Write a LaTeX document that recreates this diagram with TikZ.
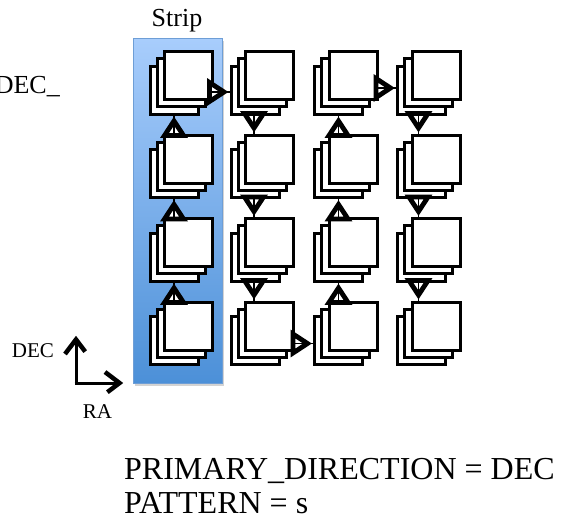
\documentclass[tikz,border=0pt]{standalone}
\usepackage{fontspec}
\setmainfont{Liberation Serif}
\usetikzlibrary{decorations.markings,shadows}
\definecolor{striptop}{RGB}{168,205,252}
\definecolor{stripbot}{RGB}{76,144,216}
\definecolor{stripedge}{RGB}{110,158,214}
\tikzset{
  sq/.style={draw=black,fill=white,line width=3pt,minimum size=48pt,inner sep=0pt,anchor=north west},
  flow/.style={line width=1.2pt,
    decoration={markings,mark=at position 1 with {
      \draw[line width=4.8pt,line join=miter,fill=white]
        (-20pt,9.5pt) -- (-5.5pt,0pt) -- (-20pt,-9.5pt) -- cycle;
      \draw[line width=1.2pt] (-20pt,0pt) -- (-9pt,0pt);
    }},postaction={decorate}},
  axis/.style={line width=3pt,shorten >=3pt,
    decoration={markings,mark=at position 1 with {
      \draw[line width=4.5pt,line join=miter,line cap=butt]
        (-19pt,11pt) -- (-4.5pt,0pt) -- (-19pt,-11pt);
    }},postaction={decorate}},
  lbl/.style={inner sep=0pt,font=\fontsize{21}{24}\selectfont},
}
\begin{document}
\begin{tikzpicture}[x=1pt,y=-1pt]
\useasboundingbox (0,0) rectangle (564,519);
% strip
\node[name=strip,anchor=north west,minimum width=89pt,minimum height=345pt,inner sep=0pt,
  top color=striptop,bottom color=stripbot,draw=stripedge,line width=0.8pt,
  drop shadow={shadow xshift=2pt,shadow yshift=-3pt,opacity=0.35}] at (133,38) {};
\node[name=striplbl,anchor=base,inner sep=0pt,font=\fontsize{26}{30}\selectfont] at (177,27) {Strip};
\node[name=declbl,anchor=base east,inner sep=0pt,font=\fontsize{26}{30}\selectfont] at (60,93) {DEC\_};
% stacks
\foreach \c/\x in {1/163,2/244,3/327.5,4/410.5}{
  \foreach \r/\y in {1/50,2/133.5,3/217,4/300.5}{
    \node[sq,name=b\c\r] at (\x-14.5,\y+14.5) {};
    \node[sq,name=m\c\r] at (\x-7.25,\y+7.25) {};
    \node[sq,name=f\c\r] at (\x,\y) {};
  }
}
% snake path
\foreach \r/\s in {2/1,3/2,4/3}{
  \draw[flow] ([xshift=11pt]f1\r.north west) -- ([xshift=11pt]f1\r.north west |- b1\s.south);
  \draw[flow] ([xshift=11pt]f3\r.north west) -- ([xshift=11pt]f3\r.north west |- b3\s.south);
}
\foreach \r/\s in {1/2,2/3,3/4}{
  \draw[flow] ([xshift=10pt]f2\s.north west |- b2\r.south) -- ([xshift=10pt]f2\s.north west);
  \draw[flow] ([xshift=8pt]f4\s.north west |- b4\r.south) -- ([xshift=8pt]f4\s.north west);
}
\draw[flow] ([yshift=-42pt]f11.north east) -- ([yshift=-42pt]f11.north east -| b21.west);
\draw[flow] ([yshift=-43pt]f24.north east) -- ([yshift=-43pt]f24.north east -| b34.west);
\draw[flow] ([yshift=-38pt]f31.north east) -- ([yshift=-38pt]f31.north east -| b41.west);
% axes
\coordinate (ax0) at (76,383);
\coordinate (axup) at (76,335);
\coordinate (axright) at (124,383);
\draw[axis] ([yshift=1.5pt]ax0) -- (axup);
\draw[axis] ([xshift=-1.5pt]ax0) -- (axright);
\node[lbl,name=declabel,anchor=base] at (33,357) {DEC};
\node[lbl,name=ralabel,anchor=base] at (97.5,418) {RA};
% bottom text
\node[name=prim,anchor=base west,inner sep=0pt,font=\fontsize{32}{35}\selectfont] at (124,479) {PRIMARY\_DIRECTION = DEC};
\node[name=patt,anchor=base west,inner sep=0pt,font=\fontsize{32}{35}\selectfont] at (124,513) {PATTERN = s};
\end{tikzpicture}
\end{document}
